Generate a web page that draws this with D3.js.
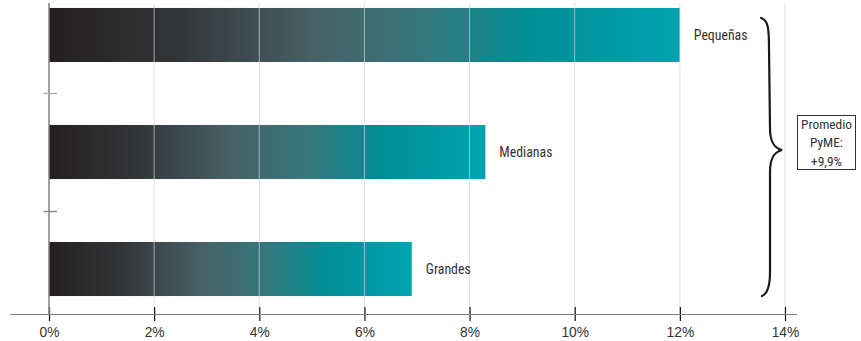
<!DOCTYPE html>
<html>
<head>
<meta charset="utf-8">
<script src="https://cdn.jsdelivr.net/npm/d3@7"></script>
<style>
  html, body { margin: 0; padding: 0; background: #fff; }
  svg { display: block; font-family: "Liberation Sans Narrow", "Arial Narrow", "Roboto Condensed", "Liberation Sans", sans-serif; }
</style>
</head>
<body>
<svg id="chart" width="861" height="341"></svg>
<script>
// Growth by company size
const categories = ["Pequeñas", "Medianas", "Grandes"];
const values = [12.0, 8.3, 6.9];
const xTicks = [0, 2, 4, 6, 8, 10, 12, 14];
const tickLabels = ["0%", "2%", "4%", "6%", "8%", "10%", "12%", "14%"];
const averageLines = ["Promedio", "PyME:", "+9,9%"];

const svg = d3.select("#chart");
const x = d3.scaleLinear().domain([0, 14]).range([49, 785]);
const y = d3.scaleBand().domain(categories).range([0, 304])
  .paddingInner(0.538).paddingOuter(0.068);
const axisY = 314;

// Horizontal gradient, stretched over each bar
const defs = svg.append("defs");
const grad = defs.append("linearGradient").attr("id", "barGrad")
  .attr("x1", "0%").attr("x2", "100%").attr("y1", "0%").attr("y2", "0%");
[[0, "#231f20"], [0.2, "#333537"], [0.42, "#476166"], [0.6, "#35787d"], [0.76, "#008e95"], [1, "#00a3b1"]]
  .forEach(([o, c]) => grad.append("stop").attr("offset", o).attr("stop-color", c));

// Bars
svg.append("g").selectAll("rect").data(categories).join("rect")
  .attr("x", x(0))
  .attr("y", d => y(d))
  .attr("width", (d, i) => x(values[i]) - x(0))
  .attr("height", y.bandwidth())
  .attr("fill", "url(#barGrad)");

// Vertical gridlines over the bars
svg.append("g").selectAll("line").data(xTicks.slice(1)).join("line")
  .attr("x1", d => x(d)).attr("x2", d => x(d))
  .attr("y1", 3).attr("y2", axisY)
  .attr("stroke", "#d4d4d4").attr("stroke-opacity", 0.7).attr("stroke-width", 1);

// Bar labels
svg.append("g").selectAll("text").data(categories).join("text")
  .attr("x", (d, i) => x(values[i]) + 14)
  .attr("y", d => y(d) + y.bandwidth() / 2)
  .attr("dy", "0.35em")
  .attr("font-size", 13.8)
  .attr("fill", "#333")
  .text(d => d);

// X axis
const xAxis = d3.axisBottom(x).tickValues(xTicks)
  .tickFormat((d, i) => tickLabels[i]).tickSize(7).tickSizeOuter(0);
const gx = svg.append("g").attr("transform", `translate(0,${axisY})`).call(xAxis);
gx.select(".domain").remove();
gx.append("line").attr("x1", 10).attr("x2", 797).attr("y1", 0.5).attr("y2", 0.5)
  .attr("stroke", "#808080").attr("stroke-width", 1.2);
gx.selectAll(".tick line").attr("y1", -7).attr("y2", 7).attr("stroke", "#111").attr("stroke-width", 1.2);
gx.selectAll(".tick text").attr("y", 13).attr("font-size", 13.8).attr("fill", "#333")
  .attr("font-family", "\"Liberation Sans Narrow\", \"Arial Narrow\", \"Liberation Sans\", sans-serif");

// Y axis with separator ticks between bands
svg.append("line").attr("x1", x(0)).attr("x2", x(0)).attr("y1", 3).attr("y2", axisY)
  .attr("stroke", "#808080").attr("stroke-width", 1.5);
const separators = categories.slice(0, -1).map(d => y(d) + y.bandwidth() + (y.step() - y.bandwidth()) / 2);
svg.append("g").selectAll("line").data(separators).join("line")
  .attr("x1", x(0) - 5.5).attr("x2", x(0) + 8)
  .attr("y1", d => Math.round(d) + 0.5).attr("y2", d => Math.round(d) + 0.5)
  .attr("stroke", (d, i) => i === 0 ? "#b0b0b0" : "#8a8a8a").attr("stroke-width", 1.5);

// Curly brace spanning all bars
const bTop = y(categories[0]) + 10, bBot = y(categories[2]) + y.bandwidth();
const bMid = (bTop + bBot) / 2 - 7;
const bx = 769, tipX = 782;
const brace = `M${bx - 8},${bTop} C${bx - 1},${bTop + 2} ${bx},${bTop + 10} ${bx},${bTop + 30}
  L${bx + 1},${bMid - 22} C${bx + 1},${bMid - 8} ${bx + 5},${bMid - 2} ${tipX},${bMid}
  C${bx + 5},${bMid + 2} ${bx + 1},${bMid + 8} ${bx + 1},${bMid + 22}
  L${bx + 1},${bBot - 24} C${bx + 1},${bBot - 8} ${bx - 2},${bBot - 2} ${bx - 7},${bBot}`;
svg.append("path").attr("d", brace).attr("fill", "none")
  .attr("stroke", "#1a1a1a").attr("stroke-width", 2.2).attr("stroke-linecap", "round");

// Average callout box
const box = svg.append("g");
box.append("rect").attr("x", 797.5).attr("y", 115.5).attr("width", 58).attr("height", 54)
  .attr("fill", "#fff").attr("stroke", "#333").attr("stroke-width", 1);
box.selectAll("text").data(averageLines).join("text")
  .attr("x", 826.5).attr("y", (d, i) => 124.5 + i * 18.3)
  .attr("dy", "0.35em").attr("text-anchor", "middle")
  .attr("font-size", 13.4).attr("fill", "#333")
  .text(d => d);
</script>
</body>
</html>
